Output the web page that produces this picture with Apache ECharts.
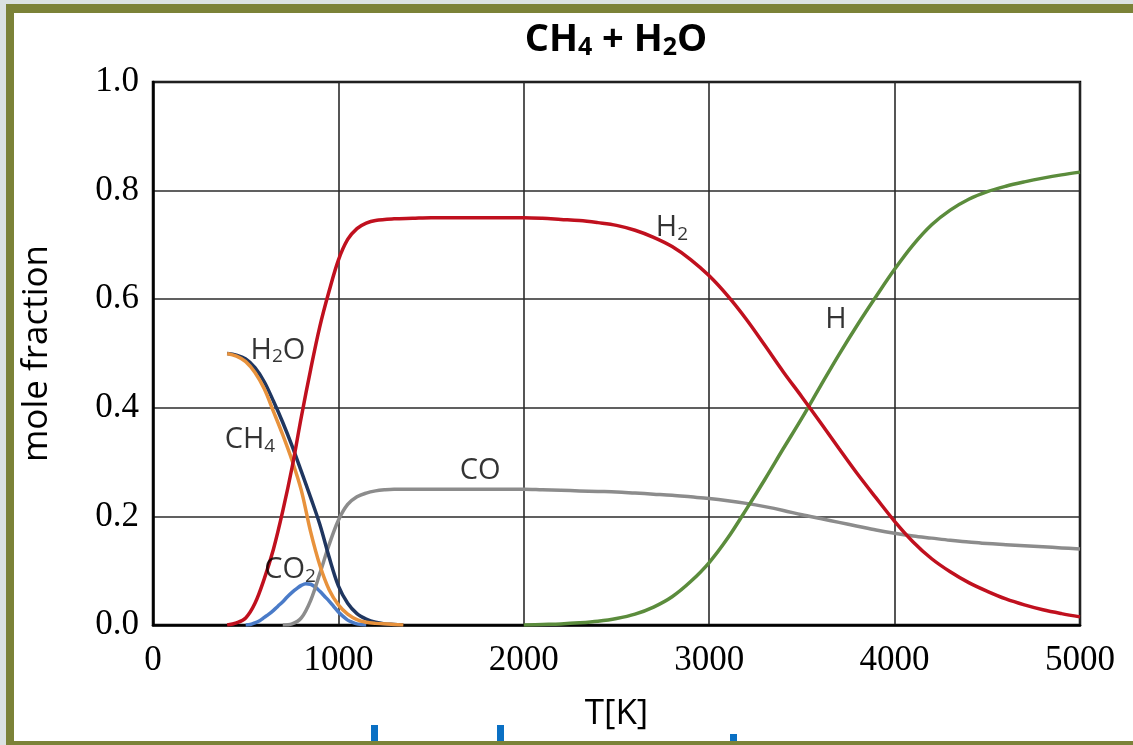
<!DOCTYPE html>
<html>
<head>
<meta charset="utf-8">
<script src="https://cdn.jsdelivr.net/npm/echarts@6/dist/echarts.min.js"></script>
<style>
html,body{margin:0;padding:0;background:#fff;}
#chart{width:1133px;height:745px;}
</style>
</head>
<body>
<div id="chart"></div>
<script>
// ---- data (T [K], mole fraction) ----
const xTicks = [0, 1000, 2000, 3000, 4000, 5000];
const yTicks = [0.0, 0.2, 0.4, 0.6, 0.8, 1.0];

const H2 = [[400,0],[450,0.004],[500,0.013],[550,0.04],[600,0.085],[650,0.14],[700,0.21],[750,0.29],[800,0.383],[850,0.47],[900,0.55],[950,0.615],[1000,0.672],[1050,0.71],[1100,0.73],[1150,0.74],[1200,0.745],[1300,0.748],[1400,0.749],[1500,0.75],[1600,0.75],[1700,0.75],[1800,0.75],[1900,0.75],[2000,0.75],[2100,0.749],[2200,0.747],[2300,0.745],[2400,0.741],[2500,0.736],[2600,0.727],[2700,0.714],[2800,0.697],[2900,0.673],[3000,0.643],[3100,0.606],[3200,0.563],[3300,0.515],[3400,0.466],[3500,0.42],[3600,0.373],[3700,0.325],[3800,0.278],[3900,0.234],[4000,0.191],[4100,0.153],[4200,0.122],[4300,0.098],[4400,0.078],[4500,0.062],[4600,0.048],[4700,0.037],[4800,0.028],[4900,0.021],[5000,0.015]];
const H = [[2000,0],[2100,0.001],[2200,0.002],[2300,0.004],[2400,0.007],[2500,0.012],[2600,0.02],[2700,0.033],[2800,0.052],[2900,0.08],[3000,0.115],[3100,0.16],[3200,0.213],[3300,0.268],[3400,0.325],[3500,0.381],[3600,0.44],[3700,0.498],[3800,0.553],[3900,0.605],[4000,0.655],[4100,0.7],[4200,0.737],[4300,0.764],[4400,0.784],[4500,0.798],[4600,0.808],[4700,0.816],[4800,0.823],[4900,0.829],[5000,0.834]];
const CO = [[700,0],[750,0.002],[800,0.013],[850,0.045],[900,0.095],[950,0.148],[1000,0.193],[1050,0.222],[1100,0.236],[1150,0.243],[1200,0.247],[1250,0.249],[1300,0.25],[1400,0.25],[1500,0.25],[1600,0.25],[1700,0.25],[1800,0.25],[1900,0.25],[2000,0.25],[2100,0.249],[2200,0.248],[2300,0.247],[2400,0.246],[2500,0.245],[2600,0.243],[2700,0.241],[2800,0.239],[2900,0.236],[3000,0.233],[3100,0.229],[3200,0.224],[3300,0.218],[3400,0.211],[3500,0.203],[3600,0.196],[3700,0.189],[3800,0.182],[3900,0.175],[4000,0.169],[4100,0.164],[4200,0.16],[4300,0.156],[4400,0.153],[4500,0.15],[4600,0.148],[4700,0.146],[4800,0.144],[4900,0.142],[5000,0.14]];
const CO2 = [[500,0],[525,0.001],[550,0.004],[575,0.008],[600,0.014],[625,0.02],[650,0.027],[675,0.035],[700,0.043],[725,0.052],[750,0.06],[775,0.067],[800,0.073],[825,0.076],[850,0.075],[875,0.07],[900,0.062],[925,0.053],[950,0.044],[975,0.034],[1000,0.024],[1025,0.016],[1050,0.009],[1075,0.005],[1100,0.002],[1125,0.001],[1150,0]];
const H2O = [[400,0.5],[450,0.497],[500,0.49],[550,0.474],[600,0.448],[650,0.412],[700,0.373],[750,0.33],[800,0.283],[850,0.235],[900,0.185],[950,0.125],[1000,0.072],[1050,0.04],[1100,0.021],[1150,0.011],[1200,0.005],[1250,0.002],[1300,0.001],[1350,0]];
const CH4 = [[400,0.5],[450,0.495],[500,0.485],[550,0.465],[600,0.435],[650,0.393],[700,0.35],[750,0.303],[800,0.248],[850,0.172],[900,0.11],[950,0.065],[1000,0.037],[1050,0.02],[1100,0.01],[1150,0.005],[1200,0.003],[1300,0.001],[1350,0]];

// curve labels: [T, fraction, main text, subscript, trailing text]
const curveLabels = [
  [2799, 0.731, 'H', '2', ''],
  [3684, 0.562, 'H', '', ''],
  [1764, 0.285, 'CO', '', ''],
  [674, 0.506, 'H', '2', 'O'],
  [523, 0.341, 'CH', '4', ''],
  [739, 0.101, 'CO', '2', '']
];

const chart = echarts.init(document.getElementById('chart'), null, {renderer: 'canvas'});

function line(name, data, color) {
  return {
    name: name, type: 'line', data: data, smooth: 0.35, showSymbol: false,
    lineStyle: {color: color, width: 3.5}, z: 3, silent: true
  };
}

const sans = '"Open Sans", "Liberation Sans", sans-serif';

const option = {
  animation: false,
  backgroundColor: '#ffffff',
  graphic: [
    {type: 'rect', shape: {x: 0, y: 0, width: 6, height: 745}, style: {fill: '#dbe2e2'}, z: 0},
    {type: 'rect', shape: {x: 0, y: 0, width: 1133, height: 4}, style: {fill: '#dbe2e2'}, z: 0},
    {type: 'rect', shape: {x: 6, y: 4, width: 8, height: 741}, style: {fill: '#7b8238'}, z: 0},
    {type: 'rect', shape: {x: 6, y: 4, width: 1127, height: 9}, style: {fill: '#7b8238'}, z: 0},
    {type: 'rect', shape: {x: 371, y: 725, width: 7, height: 16}, style: {fill: '#0a70c4'}, z: 0},
    {type: 'rect', shape: {x: 497, y: 725, width: 7, height: 16}, style: {fill: '#0a70c4'}, z: 0},
    {type: 'rect', shape: {x: 730, y: 734, width: 7, height: 7}, style: {fill: '#0a70c4'}, z: 0},
    {type: 'rect', shape: {x: 6, y: 741, width: 1127, height: 4}, style: {fill: '#7b8238'}, z: 0}
  ],
  title: {
    text: '{n|CH}{s|4}{n| + H}{s|2}{n|O}',
    left: 616, top: 20, textAlign: 'center', padding: 0,
    textStyle: {
      fontFamily: sans, fontWeight: 'bold', fontSize: 38, color: '#000',
      rich: {
        n: {fontFamily: sans, fontWeight: 'bold', fontSize: 38, color: '#000', lineHeight: 40},
        s: {fontFamily: sans, fontWeight: 'bold', fontSize: 25, color: '#000', lineHeight: 14, verticalAlign: 'bottom'}
      }
    }
  },
  grid: {left: 153, right: 53, top: 82, bottom: 120, show: true, borderColor: '#000', borderWidth: 2.5, backgroundColor: 'transparent'},
  xAxis: {
    type: 'value', min: 0, max: 5000, interval: 1000,
    name: 'T[K]', nameLocation: 'middle', nameGap: 72,
    nameTextStyle: {fontFamily: sans, fontSize: 35, color: '#000'},
    axisLine: {show: true, lineStyle: {color: '#000', width: 2.5}},
    axisTick: {show: false},
    axisLabel: {fontFamily: '"Liberation Serif", serif', fontSize: 35, color: '#000', margin: 18,
      formatter: v => xTicks.includes(v) ? String(v) : ''},
    splitLine: {show: true, lineStyle: {color: '#2b2b2b', width: 1.6}}
  },
  yAxis: {
    type: 'value', min: 0, max: 1, interval: 0.2,
    name: 'mole fraction', nameLocation: 'middle', nameGap: 98,
    nameTextStyle: {fontFamily: sans, fontSize: 35, color: '#000'},
    axisLine: {show: true, lineStyle: {color: '#000', width: 2.5}},
    axisTick: {show: false},
    axisLabel: {fontFamily: '"Liberation Serif", serif', fontSize: 35, color: '#000', margin: 14,
      formatter: v => {
        const t = yTicks.find(k => Math.abs(k - v) < 1e-6);
        return t === undefined ? '' : t.toFixed(1);
      }},
    splitLine: {show: true, lineStyle: {color: '#2b2b2b', width: 1.6}}
  },
  series: [
    line('CO2', CO2, '#4a7bc8'),
    line('CO', CO, '#8c8c8c'),
    line('H2O', H2O, '#1f3660'),
    line('CH4', CH4, '#e8923c'),
    line('H', H, '#5b8c3c'),
    line('H2', H2, '#c0101e'),
    {
      type: 'scatter', symbolSize: 0, silent: true, z: 5,
      data: curveLabels.map(l => ({value: [l[0], l[1]], main: l[2], sub: l[3], tail: l[4]})),
      label: {
        show: true, position: 'inside', fontFamily: sans, fontSize: 29, color: '#000',
        formatter: p => {
          const d = p.data;
          let s = '{n|' + d.main + '}';
          if (d.sub) s += '{s|' + d.sub + '}';
          if (d.tail) s += '{n|' + d.tail + '}';
          return s;
        },
        rich: {
          n: {fontFamily: sans, fontSize: 29, color: '#000', lineHeight: 32},
          s: {fontFamily: sans, fontSize: 19, color: '#000', lineHeight: 13, verticalAlign: 'bottom'}
        }
      }
    }
  ]
};
chart.setOption(option);
</script>
</body>
</html>
